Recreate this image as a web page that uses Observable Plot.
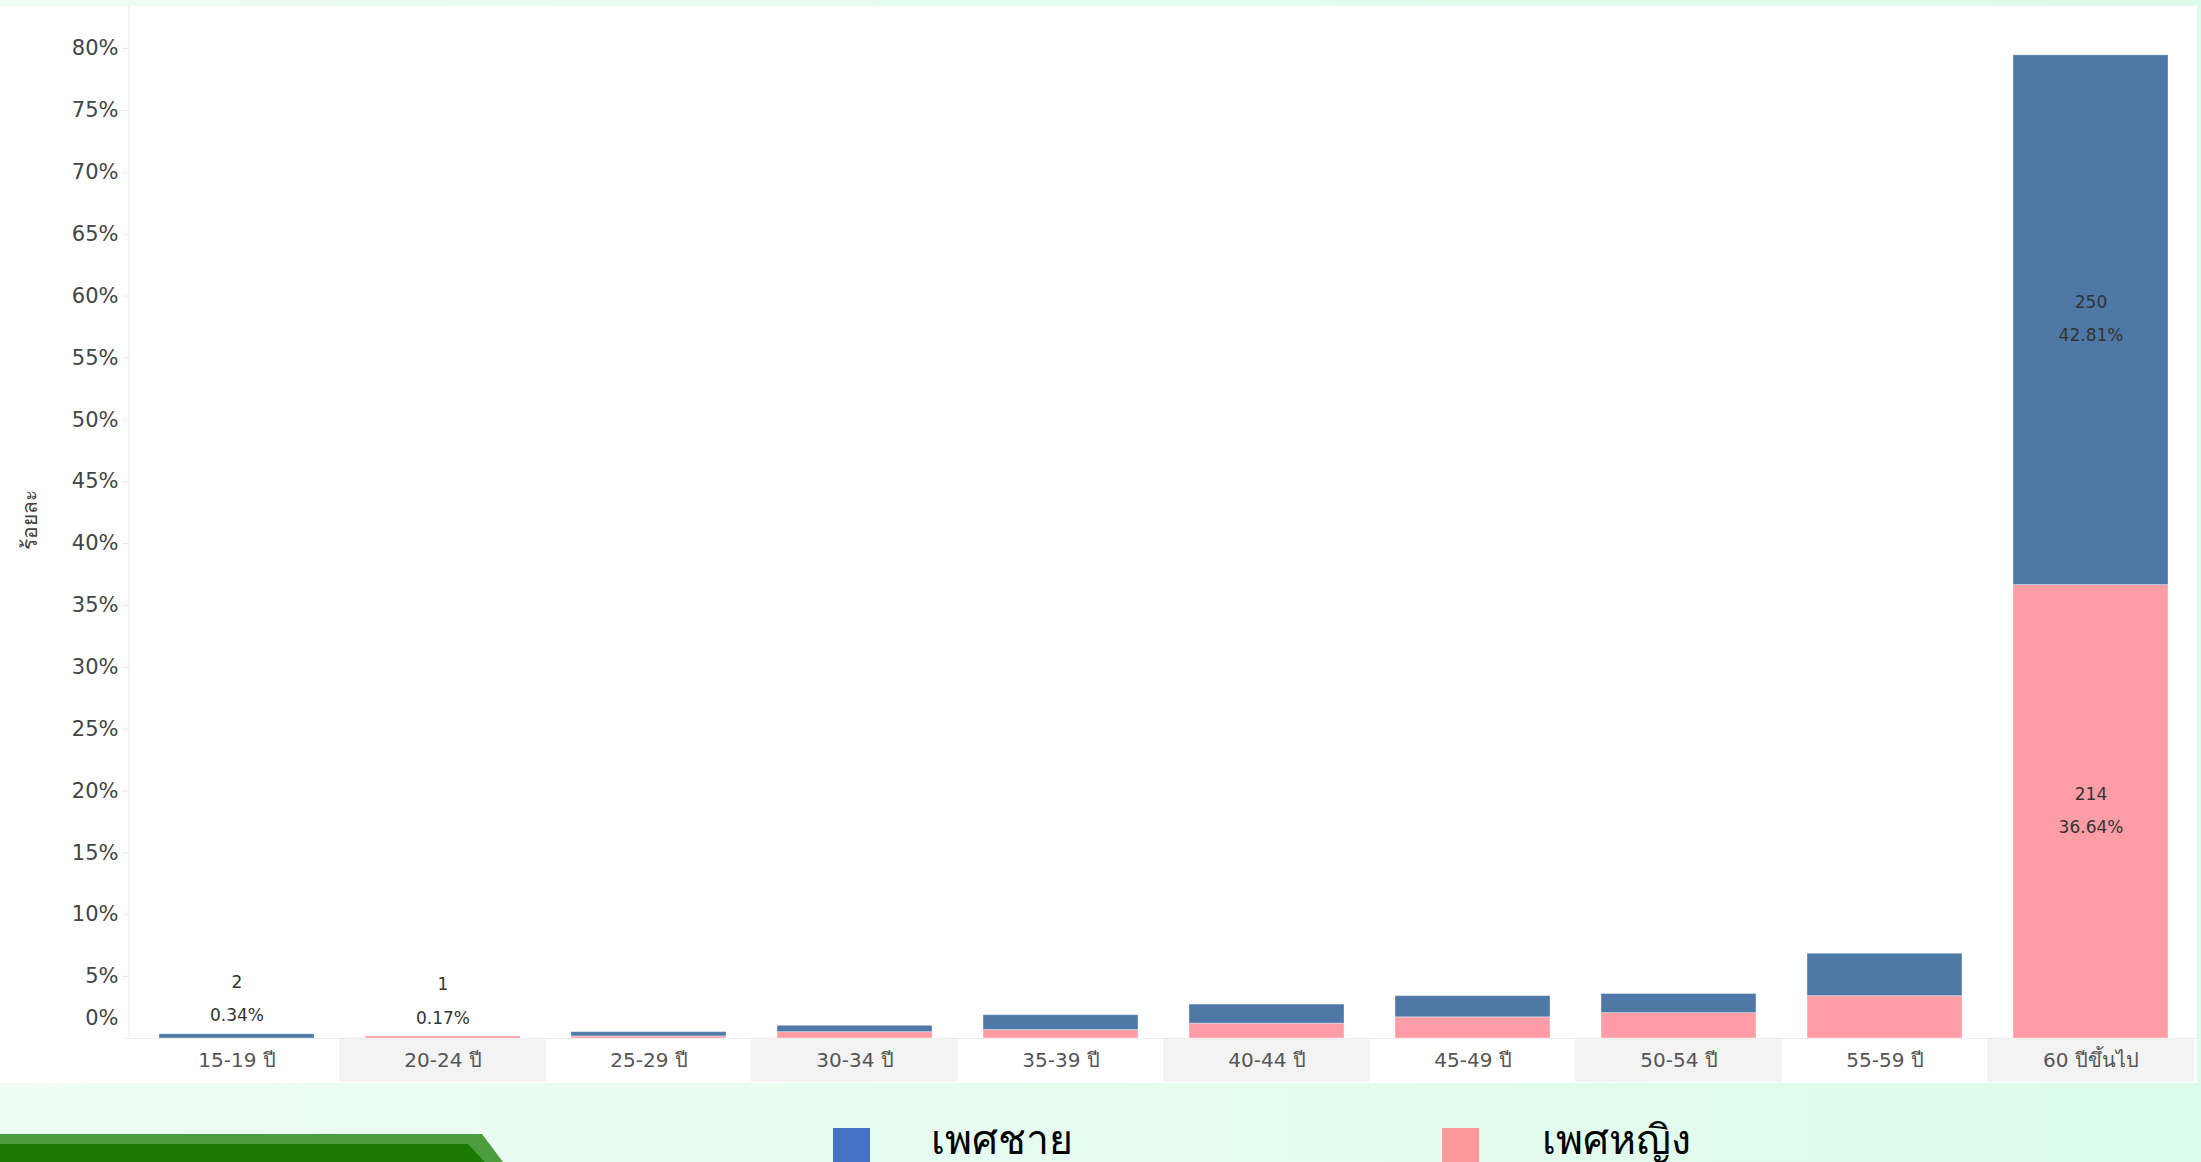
<!DOCTYPE html>
<html>
<head>
<meta charset="utf-8">
<script src="https://cdn.jsdelivr.net/npm/d3@7"></script>
<script src="https://cdn.jsdelivr.net/npm/@observablehq/plot@0.6"></script>
<style>
html, body { margin: 0; padding: 0; }
body {
  width: 2201px; height: 1162px; overflow: hidden; position: relative;
  background: linear-gradient(to right, #effdf5, #dcfbea);
  font-family: "Noto Sans", "DejaVu Sans", sans-serif;
}
#panel { position: absolute; left: 0; top: 6px; width: 2197px; height: 1077px; background: #fff; }
#panel svg { display: block; font-family: "DejaVu Sans", "Noto Sans", sans-serif; }
.legend-swatch { position: absolute; top: 1128px; width: 37px; height: 40px; }
.legend-text { position: absolute; top: 1118px; font-size: 41px; line-height: 1; color: #000; white-space: nowrap; }
#banner { position: absolute; left: 0; top: 1134px; width: 512px; height: 40px; background: #4c9d3e;
  clip-path: polygon(0 0, 482px 0, 512px 40px, 0 40px); }
#banner-inner { position: absolute; left: 0; top: 1144px; width: 496px; height: 30px; background: #1b7a03;
  clip-path: polygon(0 0, 468px 0, 496px 30px, 0 30px); }
</style>
</head>
<body>
<div id="panel"></div>
<div id="banner"></div>
<div id="banner-inner"></div>
<div id="legend"></div>
<script>
// ---- data ----
const ageGroups = ["15-19 ปี", "20-24 ปี", "25-29 ปี", "30-34 ปี", "35-39 ปี", "40-44 ปี", "45-49 ปี", "50-54 ปี", "55-59 ปี", "60 ปีขึ้นไป"];
const maleCounts   = [2, 0, 2, 3, 7, 9, 10, 9, 20, 250];
const femaleCounts = [0, 1, 1, 3, 4, 7, 10, 12, 20, 214];
const maleLabel = "เพศชาย";
const femaleLabel = "เพศหญิง";
const yTicks = [5, 10, 15, 20, 25, 30, 35, 40, 45, 50, 55, 60, 65, 70, 75, 80];
const zeroTick = [0];
const yTitle = "ร้อยละ";
const barColors = {[maleLabel]: "#4e79a7", [femaleLabel]: "#ff9da7"};
const legendColors = {[maleLabel]: "#4472c4", [femaleLabel]: "#ff9999"};

// ---- derived table ----
const total = d3.sum(maleCounts) + d3.sum(femaleCounts);
const rows = [];
ageGroups.forEach((age, i) => {
  rows.push({age, sex: femaleLabel, count: femaleCounts[i], pct: femaleCounts[i] / total * 100});
  rows.push({age, sex: maleLabel, count: maleCounts[i], pct: maleCounts[i] / total * 100});
});
const fmt = d => `${d.count}\n${d.pct.toFixed(2)}%`;
// labels inside large segments
const insideGroups = new Set(rows.filter(d => d.count >= 100).map(d => d.age));
const insideRows = rows.filter(d => insideGroups.has(d.age));
// labels above single-segment bars
const aboveRows = rows.filter(d => d.count > 0 && rows.some(o => o.age === d.age && o.sex !== d.sex && o.count === 0));
const shadedGroups = ageGroups.filter((_, i) => i % 2 === 1);

const W = 2197, H = 1076, ML = 129, MB = 44;
const yMax = 83.4;
const bandPadInner = 0.25;
const step = (W - ML) / ageGroups.length;
const bandExtra = step * bandPadInner / 2;

const axisLine = (index, scales, values, dims) => {
  const l = document.createElementNS("http://www.w3.org/2000/svg", "line");
  l.setAttribute("x1", dims.marginLeft); l.setAttribute("x2", dims.marginLeft);
  l.setAttribute("y1", dims.marginTop); l.setAttribute("y2", dims.height - dims.marginBottom);
  l.setAttribute("stroke", "#ececec");
  return l;
};

const chart = Plot.plot({
  width: W, height: H,
  marginLeft: ML, marginRight: 0, marginTop: 0, marginBottom: MB,
  style: {background: "transparent", overflow: "visible"},
  x: {domain: ageGroups, paddingInner: bandPadInner, paddingOuter: bandPadInner / 2, axis: null},
  y: {domain: [0, yMax], axis: null, label: null},
  color: {domain: [maleLabel, femaleLabel], range: [barColors[maleLabel], barColors[femaleLabel]]},
  marks: [
    // alternating label bands
    Plot.barY(shadedGroups, {x: d => d, y1: 0, y2: -MB / ((H - MB) / yMax), fill: "#f3f3f3", insetLeft: -bandExtra, insetRight: -bandExtra}),
    axisLine,
    Plot.ruleY([0], {stroke: "#ececec", insetLeft: -6}),
    Plot.axisY({ticks: yTicks, tickFormat: d => d + "%", tickSize: 7, tickPadding: 4, stroke: "#e6e6e6", color: "#444", fontSize: 21, label: null}),
    Plot.text(zeroTick, {y: d => d, text: d => d + "%", frameAnchor: "left", dx: -11, dy: -20, textAnchor: "end", fill: "#444", fontSize: 21}),
    Plot.text([yTitle], {frameAnchor: "left", dx: -99, dy: 27, rotate: -90, fill: "#444", fontSize: 21}),
    Plot.barY(rows, {x: "age", y: "pct", fill: "sex", stroke: "#fff", strokeOpacity: 0.35, strokeWidth: 1}),
    Plot.text(insideRows, Plot.stackY({x: "age", y: "pct", text: d => d.count >= 100 ? fmt(d) : null, fill: "#333", fontSize: 17, lineHeight: 1.95, dy: -6})),
    Plot.text(aboveRows, {x: "age", y: "pct", text: fmt, fill: "#333", fontSize: 17, lineHeight: 1.95, dy: -40}),
    Plot.text(ageGroups, {x: d => d, y: 0, text: d => d, dy: 22, fill: "#555", fontSize: 20})
  ]
});
document.getElementById("panel").appendChild(chart);

// ---- legend ----
const legend = document.getElementById("legend");
const legendPos = [{label: maleLabel, sx: 833, tx: 931}, {label: femaleLabel, sx: 1442, tx: 1542}];
legendPos.forEach(p => {
  const s = document.createElement("div");
  s.className = "legend-swatch"; s.style.left = p.sx + "px"; s.style.background = legendColors[p.label];
  const t = document.createElement("div");
  t.className = "legend-text"; t.style.left = p.tx + "px"; t.textContent = p.label;
  legend.appendChild(s); legend.appendChild(t);
});
</script>
</body>
</html>
